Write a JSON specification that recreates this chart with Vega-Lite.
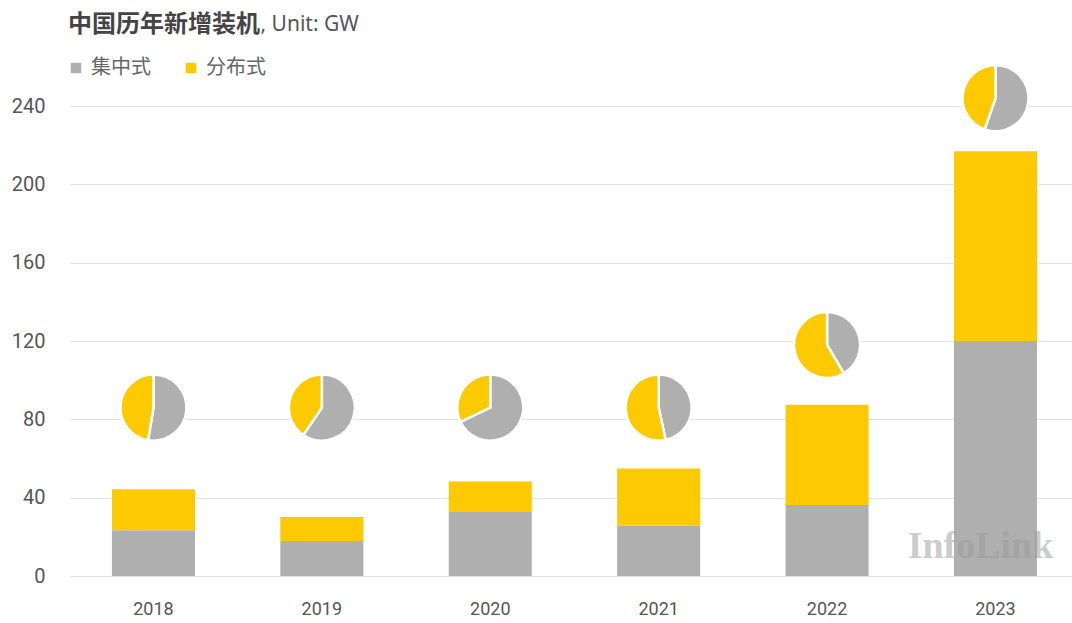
{
  "$schema": "https://vega.github.io/schema/vega-lite/v6.json",
  "width": 1002,
  "height": 470,
  "autosize": {"type": "none"},
  "padding": {"left": 70, "top": 106, "right": 0, "bottom": 47},
  "background": "white",
  "title": {
    "text": "中国历年新增装机",
    "anchor": "start",
    "frame": "group",
    "font": "Noto Sans CJK SC",
    "fontSize": 24,
    "fontWeight": "bold",
    "color": "#444444",
    "dx": -2,
    "offset": 0,
    "baseline": "alphabetic",
    "dy": 43
  },
  "data": {
    "values": [
      {"year": "2018", "type": "集中式", "value": 23.3, "piey": 86},
      {"year": "2018", "type": "分布式", "value": 21.0, "piey": 86},
      {"year": "2019", "type": "集中式", "value": 17.9, "piey": 86},
      {"year": "2019", "type": "分布式", "value": 12.2, "piey": 86},
      {"year": "2020", "type": "集中式", "value": 32.7, "piey": 86},
      {"year": "2020", "type": "分布式", "value": 15.5, "piey": 86},
      {"year": "2021", "type": "集中式", "value": 25.6, "piey": 86},
      {"year": "2021", "type": "分布式", "value": 29.3, "piey": 86},
      {"year": "2022", "type": "集中式", "value": 36.3, "piey": 118},
      {"year": "2022", "type": "分布式", "value": 51.1, "piey": 118},
      {"year": "2023", "type": "集中式", "value": 120.0, "piey": 244},
      {"year": "2023", "type": "分布式", "value": 96.9, "piey": 244}
    ]
  },
  "layer": [
    {
      "mark": {"type": "bar"},
      "encoding": {
        "x": {
          "field": "year", "type": "nominal",
          "scale": {"paddingInner": 0.507, "paddingOuter": 0.2285, "align": 0.545},
          "axis": {
            "labelAngle": 0, "domain": false, "ticks": false, "grid": false, "zindex": 1,
            "labelFont": "Roboto", "labelFontSize": 18, "labelColor": "#555555",
            "labelPadding": 24,
            "title": "InfoLink", "titleFont": "Liberation Serif", "titleFontSize": 38,
            "titleFontWeight": "bold", "titleColor": "#9a9a9a", "titleOpacity": 0.5,
            "titleX": 910, "titleY": -19, "titleAlign": "center", "titleBaseline": "alphabetic"
          }
        },
        "y": {
          "field": "value", "type": "quantitative", "aggregate": "sum",
          "scale": {"domain": [0, 240], "nice": false},
          "axis": {
            "values": [0, 40, 80, 120, 160, 200, 240],
            "domain": false, "ticks": false, "gridColor": "#e3e3e3", "gridWidth": 1,
            "labelFont": "Roboto", "labelFontSize": 20, "labelColor": "#555555",
            "labelPadding": 25,
            "title": ", Unit: GW", "titleFont": "Noto Sans", "titleFontSize": 21,
            "titleFontWeight": "normal", "titleColor": "#555555", "titleAngle": 0,
            "titleX": 190, "titleY": -76, "titleAlign": "left", "titleBaseline": "alphabetic"
          }
        },
        "color": {
          "field": "type", "type": "nominal",
          "scale": {"domain": ["集中式", "分布式"], "range": ["#afafaf", "#fdc900"]},
          "legend": {
            "title": null, "orient": "none", "direction": "horizontal",
            "legendX": -4, "legendY": -48, "symbolType": "square", "symbolSize": 110,
            "labelFont": "Noto Sans CJK SC", "labelFontSize": 20, "labelColor": "#666666",
            "labelOffset": 5, "columnPadding": 30, "symbolStrokeWidth": 0
          }
        },
        "order": {"field": "type", "sort": "descending"}
      }
    },
    {
      "transform": [
        {
          "stack": "value",
          "groupby": ["year"],
          "offset": "normalize",
          "sort": [{"field": "type", "order": "descending"}],
          "as": ["t0", "t1"]
        }
      ],
      "mark": {"type": "arc", "outerRadius": 33, "stroke": "white", "strokeWidth": 2.5},
      "encoding": {
        "x": {"field": "year", "type": "nominal"},
        "y": {"field": "piey", "type": "quantitative", "stack": null},
        "theta": {"field": "t0", "type": "quantitative", "scale": {"domain": [0, 1]}},
        "theta2": {"field": "t1"},
        "color": {"field": "type", "type": "nominal"}
      }
    }
  ],
  "config": {
    "view": {"stroke": null},
    "legend": {"symbolType": "square"}
  }
}
